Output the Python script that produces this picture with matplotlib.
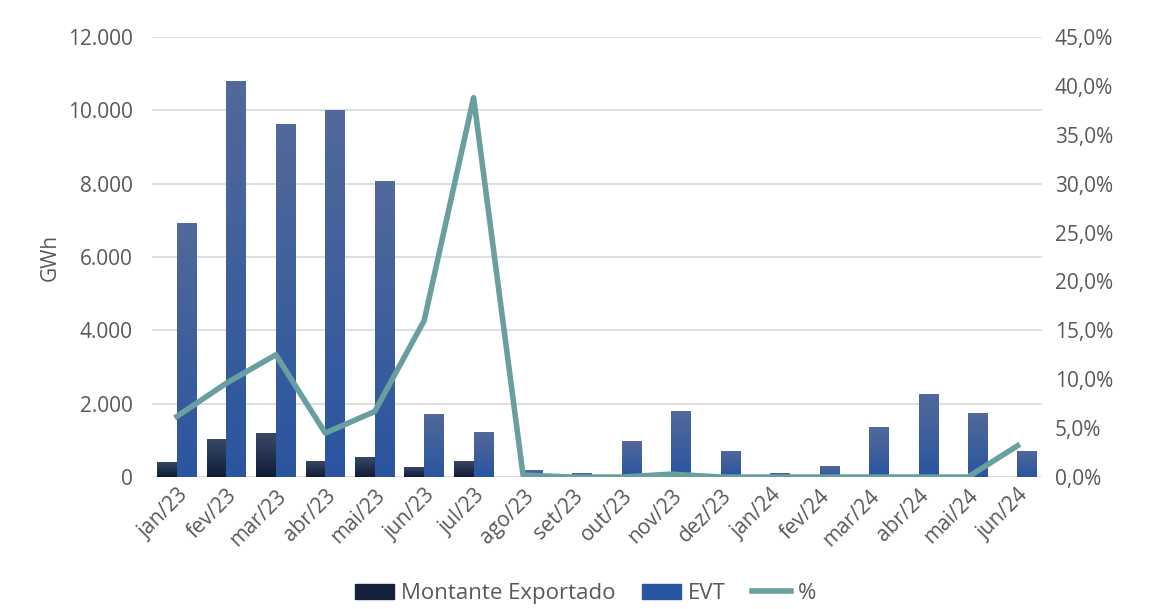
import numpy as np
import matplotlib.pyplot as plt
from matplotlib.ticker import FuncFormatter
from matplotlib.colors import LinearSegmentedColormap

plt.rcParams['font.family'] = ['Open Sans', 'DejaVu Sans']

months = ['jan/23', 'fev/23', 'mar/23', 'abr/23', 'mai/23', 'jun/23', 'jul/23', 'ago/23', 'set/23',
          'out/23', 'nov/23', 'dez/23', 'jan/24', 'fev/24', 'mar/24', 'abr/24', 'mai/24', 'jun/24']
exportado = [420, 1040, 1200, 440, 550, 280, 450, 0, 0, 0, 0, 0, 0, 0, 0, 0, 0, 0]
evt = [6930, 10800, 9620, 10000, 8070, 1720, 1240, 190, 110, 980, 1800, 710, 110, 300, 1360, 2260, 1740, 710]
pct = [6.2, 9.6, 12.5, 4.5, 6.7, 16.0, 38.8, 0.2, 0.0, 0.0, 0.3, 0.0, 0.0, 0.0, 0.0, 0.0, 0.0, 3.2]

dark_c = '#16223d'
blue_c = '#2a55a0'
line_c = '#6a9fa0'
text_c = '#595959'

fig = plt.figure(figsize=(11.71, 6.09), dpi=100)
ax = fig.add_axes([0.13, 0.2167, 0.76, 0.7225])
ax2 = ax.twinx()

x = np.arange(len(months))
w = 0.4
b1 = ax.bar(x - w / 2, exportado, w, color=dark_c, zorder=2)
b2 = ax.bar(x + w / 2, evt, w, color=blue_c, zorder=2)

# vertical gradients on bars
grad = np.linspace(0, 1, 256).reshape(-1, 1)
cm_dark = LinearSegmentedColormap.from_list('d', ['#0f1c38', '#3a4a66'])
cm_blue = LinearSegmentedColormap.from_list('b', ['#2a55a0', '#52699a'])
for bars, cm in ((b1, cm_dark), (b2, cm_blue)):
    for r in bars:
        if r.get_height() <= 0:
            continue
        x0, y0 = r.get_x(), r.get_y()
        im = ax.imshow(grad, cmap=cm, aspect='auto', origin='lower', zorder=2,
                       extent=[x0, x0 + r.get_width(), y0, y0 + r.get_height()])
        im.set_clip_path(r)

ax2.plot(x, pct, color=line_c, lw=4, solid_joinstyle='round', zorder=3)

ax.set_xlim(-0.5, len(months) - 0.5)
ax.set_ylim(0, 12000)
ax.set_yticks(np.arange(0, 12001, 2000))
ax.yaxis.set_major_formatter(FuncFormatter(lambda v, p: f'{int(v):,}'.replace(',', '.')))
ax2.set_ylim(0, 45)
ax2.set_yticks(np.arange(0, 46, 5))
ax2.yaxis.set_major_formatter(FuncFormatter(lambda v, p: f'{v:.1f}%'.replace('.', ',')))

ax.grid(axis='y', color='#d9d9d9', lw=1.2, zorder=0)
ax.set_axisbelow(True)
for a in (ax, ax2):
    for s in a.spines.values():
        s.set_visible(False)
    a.tick_params(length=0, labelsize=15, labelcolor=text_c)
ax.tick_params(axis='y', pad=14)
ax2.tick_params(axis='y', pad=9)
ax.set_xticks(x)
ax.set_xticklabels(months, rotation=45, ha='right', rotation_mode='anchor')
ax.tick_params(axis='x', pad=6)
ax.set_ylabel('GWh', fontsize=15, color=text_c, labelpad=5)

ax.set_zorder(ax2.get_zorder() - 1)
ax.patch.set_visible(False)

handles = [plt.Rectangle((0, 0), 1, 1, color=dark_c),
           plt.Rectangle((0, 0), 1, 1, color=blue_c),
           plt.Line2D([0], [0], color=line_c, lw=4)]
fig.legend(handles, ['Montante Exportado', 'EVT', '%'], loc='center', bbox_to_anchor=(0.5, 0.025),
           ncol=3, frameon=False, fontsize=16, labelcolor=text_c, handlelength=1.75,
           handletextpad=0.3, columnspacing=1.2)

fig.savefig('out.png', dpi=100)
